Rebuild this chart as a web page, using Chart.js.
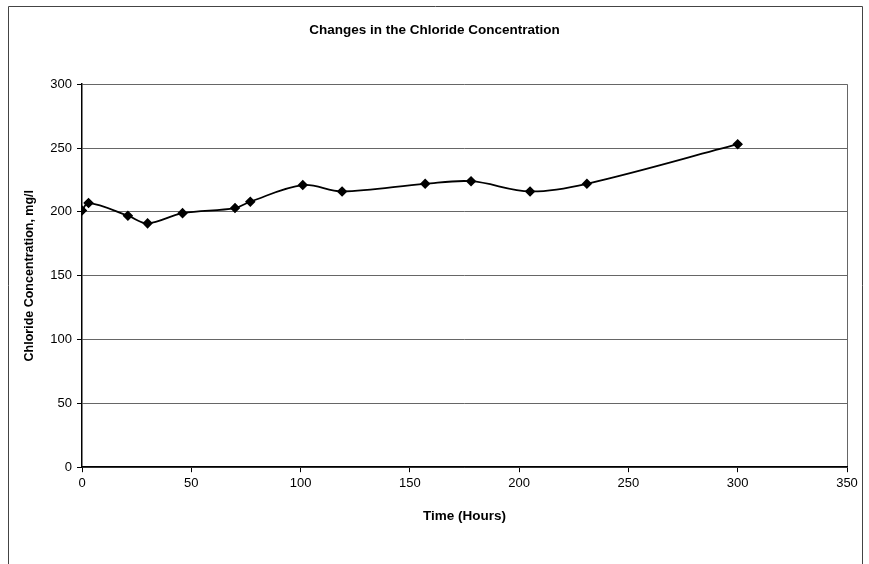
<!DOCTYPE html>
<html>
<head>
<meta charset="utf-8">
<script src="https://cdn.jsdelivr.net/npm/chart.js@4"></script>
<style>
html,body{margin:0;padding:0;background:#fff;}
#wrap{width:869px;height:564px;position:relative;}
</style>
</head>
<body>
<div id="wrap"><canvas id="c" width="869" height="564"></canvas></div>
<script>
const timeHours = [0, 3, 21, 30, 46, 70, 77, 101, 119, 157, 178, 205, 231, 300];
const chloride = [201, 207, 197, 191, 199, 203, 208, 221, 216, 222, 224, 216, 222, 253];
const xTicks = [0, 50, 100, 150, 200, 250, 300, 350];
const yTicks = [0, 50, 100, 150, 200, 250, 300];
const chartTitle = 'Changes in the Chloride Concentration';
const xTitle = 'Time (Hours)';
const yTitle = 'Chloride Concentration, mg/l';

const frame = {
  id: 'frame',
  beforeDraw(chart) {
    const c = chart.ctx;
    c.save();
    c.fillStyle = '#fff';
    c.fillRect(0, 0, chart.width, chart.height);
    c.strokeStyle = '#444';
    c.lineWidth = 1;
    c.beginPath();
    c.moveTo(8.5, 570);
    c.lineTo(8.5, 6.5);
    c.lineTo(862.5, 6.5);
    c.lineTo(862.5, 570);
    c.stroke();
    c.restore();
  }
};

new Chart(document.getElementById('c'), {
  type: 'line',
  data: {
    datasets: [{
      data: timeHours.map((t, i) => ({x: t, y: chloride[i]})),
      borderColor: '#000',
      backgroundColor: '#000',
      borderWidth: 1.8,
      pointStyle: 'rectRot',
      pointRadius: 4,
      pointBackgroundColor: '#000',
      pointBorderColor: '#000',
      tension: 0.35,
      fill: false
    }]
  },
  options: {
    responsive: false,
    animation: false,
    devicePixelRatio: 1,
    layout: {padding: {left: 22, right: 22, top: 0, bottom: 40}},
    plugins: {
      legend: {display: false},
      tooltip: {enabled: false},
      title: {
        display: true,
        text: chartTitle,
        color: '#000',
        font: {family: 'Liberation Sans', size: 13.5, weight: 'bold'},
        padding: {top: 22, bottom: 46}
      }
    },
    scales: {
      x: {
        type: 'linear',
        min: 0, max: 350,
        afterBuildTicks: s => { s.ticks = xTicks.map(v => ({value: v})); },
        ticks: {color: '#000', font: {family: 'Liberation Sans', size: 13}, padding: 3, maxRotation: 0},
        grid: {
          color: ctx => (ctx.tick && ctx.tick.value === 350) ? '#666' : 'rgba(0,0,0,0)',
          tickColor: '#000',
          tickLength: 5,
          drawOnChartArea: true
        },
        border: {display: true, color: '#000', width: 1.5},
        title: {display: true, text: xTitle, color: '#000', font: {family: 'Liberation Sans', size: 13.5, weight: 'bold'}, padding: {top: 14, bottom: 0}}
      },
      y: {
        type: 'linear',
        min: 0, max: 300,
        afterBuildTicks: s => { s.ticks = yTicks.map(v => ({value: v})); },
        ticks: {color: '#000', font: {family: 'Liberation Sans', size: 13}, padding: 5},
        grid: {color: '#666', tickColor: '#000', tickLength: 5},
        border: {display: true, color: '#000', width: 1.5},
        title: {display: true, text: yTitle, color: '#000', font: {family: 'Liberation Sans', size: 12.5, weight: 'bold'}, padding: {top: 0, bottom: 8}},
        afterFit: s => { s.width = 60; }
      }
    }
  },
  plugins: [frame]
});
</script>
</body>
</html>
